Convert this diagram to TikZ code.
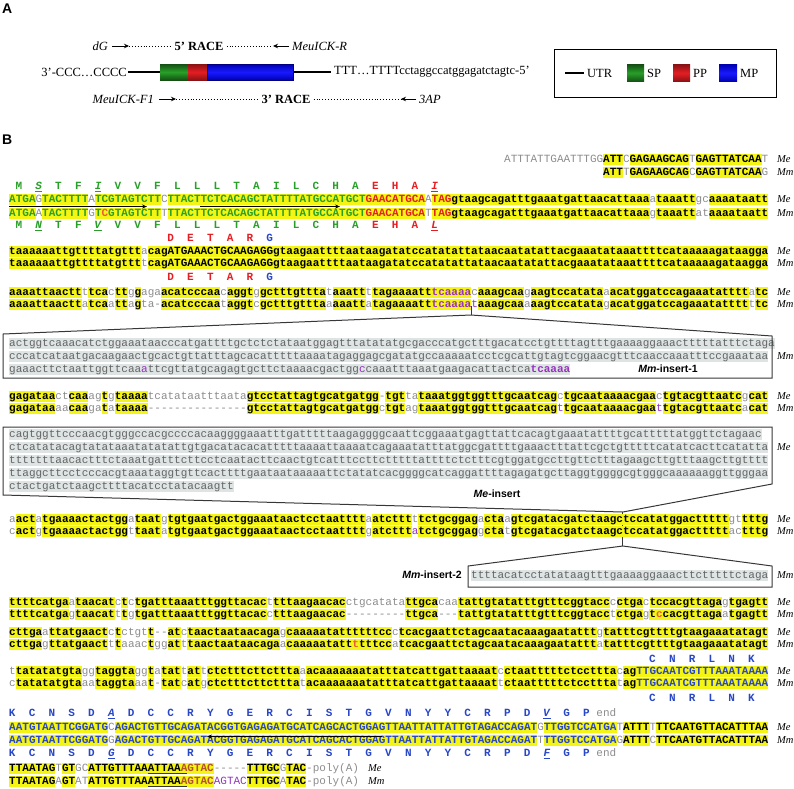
\documentclass[tikz,border=0pt]{standalone}
\usepackage{fontspec}
\setmainfont{Liberation Serif}
\newfontfamily\sqfam{Liberation Mono}
\newfontfamily\sansfam{Liberation Sans}
\usetikzlibrary{arrows.meta}
\definecolor{hly}{RGB}{245,245,20}
\definecolor{ngr}{RGB}{140,140,140}
\definecolor{ibg}{RGB}{222,228,228}
\definecolor{itx}{RGB}{100,100,100}
\definecolor{spc}{RGB}{40,160,40}
\definecolor{ppc}{RGB}{230,30,35}
\definecolor{mpc}{RGB}{40,70,200}
\definecolor{puc}{RGB}{150,50,190}
\definecolor{orc}{RGB}{180,80,50}
\definecolor{rdx}{RGB}{235,90,60}
\definecolor{brd}{RGB}{55,55,55}
\setlength\fboxsep{0pt}
\newdimen\cwl \cwl=6.6pt
\newcommand\sqf{\sqfam\fontsize{11}{13}\selectfont}
\newcommand\stc{\rule[-2.6pt]{0pt}{10.2pt}}
\newcommand\sqY[1]{\colorbox{hly}{\stc\bfseries #1}}
\newcommand\sqG[1]{{\color{ngr}#1}}
\newcommand\sqI[1]{\colorbox{ibg}{\stc\color{itx}#1}}
\newcommand\kG[1]{{\color{spc}#1}}
\newcommand\kR[1]{{\color{ppc}#1}}
\newcommand\kB[1]{{\color{mpc}#1}}
\newcommand\kP[1]{{\color{puc}#1}}
\newcommand\kO[1]{{\color{orc}#1}}
\newcommand\kX[1]{{\color{rdx}#1}}
\newcommand\hyn[1]{\hbox to #1\cwl{\leaders\hbox to \cwl{\hss-\hss}\hfill}}
\newcommand\uI[1]{\underline{\textit{#1}}}
\tikzset{
 sq/.style={anchor=base west,inner sep=0pt,font=\sqf},
 aa/.style={anchor=base,inner sep=0pt,font=\sqf\bfseries},
 rlab/.style={anchor=base west,inner sep=0pt,font=\rmfamily\itshape\fontsize{10.5}{12}\selectfont},
 ta/.style={inner sep=0pt,font=\rmfamily\fontsize{12.5}{14}\selectfont},
 tai/.style={inner sep=0pt,font=\rmfamily\itshape\fontsize{12.5}{14}\selectfont},
 tab/.style={inner sep=0pt,font=\rmfamily\bfseries\fontsize{12.5}{14}\selectfont},
 dots/.style={dotted,line width=0.9pt},
 parr/.style={-{Stealth[length=5pt,width=4.5pt]},line width=1pt},
 utr/.style={line width=2.6pt},
 callout/.style={draw=brd,line width=1pt},
 pnl/.style={font=\sansfam\bfseries\fontsize{14}{14}\selectfont,inner sep=0pt,anchor=west},
 ilab/.style={inner sep=0pt,anchor=base,font=\sansfam\bfseries\fontsize{10.5}{12}\selectfont},
 primer/.style={-{Stealth[length=5pt,width=4pt]},line width=0.6pt},
}
\newcommand\srow[4]{\node[sq] (#1) at ({9+6.6*#2},#3) {#4};}
\newcommand\aas[5]{\foreach \l [count=\i from 0] in {#5}{\node[aa,text=#4] (#1-\i) at ({9+6.6*(#3+3*\i+0.5)},#2) {\l};}}
\begin{document}
\begin{tikzpicture}[x=1pt,y=-1pt]
\useasboundingbox (0,0) rectangle (794,788);
% ---------------- Panel A ----------------
\node[pnl] (lblA) at (2,9) {A};
\node[tai,anchor=east] (dG) at (108,46) {dG};
\coordinate (p1) at (112,46); \coordinate (p2) at (129,46);
\draw[parr] (p1) -- (p2);
\node[tab] (race5) at (199,46) {5’ RACE};
\draw[dots] (p2) -- ([xshift=-3pt]race5.west);
\coordinate (p3) at (273,46); \coordinate (p4) at (289,46);
\draw[dots] ([xshift=3pt]race5.east) -- (p3);
\draw[parr] (p4) -- (p3);
\node[tai,anchor=west] (meuR) at (292,46) {MeuICK-R};

\node[ta,anchor=east] (left5) at (127,72) {3’-CCC…CCCC};
\coordinate (u1) at (128,72); \coordinate (u2) at (160,72);
\coordinate (u3) at (293,72); \coordinate (u4) at (331,72);
\draw[utr] (u1) -- (u2);
\draw[utr] (u3) -- (u4);
\shade[top color=spc!50!black,bottom color=spc!50!black,middle color=spc] (160,64) rectangle (188,80);
\shade[top color=ppc!60!black,bottom color=ppc!60!black,middle color=ppc] (188,64) rectangle (207,80);
\shade[top color=blue!70!black,bottom color=blue!70!black,middle color=blue!90!white] (207,64) rectangle (293,80);
\draw[blue!50!black,line width=0.5pt] (207,64) rectangle (293,80);
\node[ta,anchor=west] (right3) at (334,72) {TTT…TTTTcctaggccatggagatctagtc-5’};

\node[tai,anchor=east] (meuF) at (154,99) {MeuICK-F1};
\coordinate (q1) at (159,99); \coordinate (q2) at (176,99);
\draw[parr] (q1) -- (q2);
\node[tab] (race3) at (286,99) {3’ RACE};
\draw[dots] (q2) -- ([xshift=-3pt]race3.west);
\coordinate (q3) at (401,99); \coordinate (q4) at (416,99);
\draw[dots] ([xshift=3pt]race3.east) -- (q3);
\draw[parr] (q4) -- (q3);
\node[tai,anchor=west] (ap3) at (419,99) {3AP};

\node[draw,line width=0.8pt,minimum width=222pt,minimum height=48pt,anchor=north west,inner sep=0pt] (legend) at (554,49) {};
\coordinate (l1) at (565,73); \coordinate (l2) at (584,73);
\draw[utr] (l1) -- (l2);
\node[ta,anchor=west] (lutr) at (587,73) {UTR};
\shade[top color=spc!50!black,bottom color=spc!50!black,middle color=spc] (627,64.5) rectangle (644,81.5);
\node[ta,anchor=west] (lsp) at (647,73) {SP};
\shade[top color=ppc!60!black,bottom color=ppc!60!black,middle color=ppc] (673,64.5) rectangle (690,81.5);
\node[ta,anchor=west] (lpp) at (693,73) {PP};
\shade[top color=blue!70!black,bottom color=blue!70!black,middle color=blue!90!white] (719,64.5) rectangle (737,81.5);
\node[ta,anchor=west] (lmp) at (740,73) {MP};

% ---------------- Panel B ----------------
\node[pnl] (lblB) at (2,140) {B};

% row 1
\srow{r1a}{75}{162}{\sqG{ATTTATTGAATTTGG}\sqY{ATT}\sqG{C}\sqY{GAGAAGCAG}\sqG{T}\sqY{GAGTTATCAA}\sqG{T}}
\srow{r1b}{90}{175}{\sqY{ATT}\sqG{T}\sqY{GAGAAGCAG}\sqG{C}\sqY{GAGTTATCAA}\sqG{G}}
\node[rlab] (l1a) at (777,162) {Me};
\node[rlab] (l1b) at (777,175) {Mm};

% row 2
\aas{a2a}{189.5}{1}{spc}{M,\uI{S},T,F,\uI{I},V,V,F,L,L,L,T,A,I,L,C,H,A}
\aas{a2b}{189.5}{55}{ppc}{E,H,A,\uI{I}}
\srow{r2a}{0}{202}{\sqY{\kG{ATGA}}\sqG{G}\sqY{\kG{TACTTTT}}\sqG{A}\sqY{\kG{TCGTAGTCTT}}\sqG{C}\sqY{\kG{TTACTTCTCACAGCTATTTTATGCCATGCT}\kR{GAACATGCA}}\sqG{A}\sqY{\kR{TAG}gtaagcagatttgaaatgattaacattaaa}\sqG{a}\sqY{taaatt}\sqG{gc}\sqY{aaaataatt}}
\srow{r2b}{0}{216}{\sqY{\kG{ATGA}}\sqG{A}\sqY{\kG{TACTTTT}}\sqG{G}\sqY{\kG{T}\kX{C}\kG{GTAGTCTT}}\sqG{T}\sqY{\kG{TTACTTCTCACAGCTATTTTATGCCATGCT}\kR{GAACATGCA}}\sqG{T}\sqY{\kR{TAG}gtaagcagatttgaaatgattaacattaaa}\sqG{g}\sqY{taaatt}\sqG{at}\sqY{aaaataatt}}
\aas{a2c}{228.5}{1}{spc}{M,\uI{N},T,F,\uI{V},V,V,F,L,L,L,T,A,I,L,C,H,A}
\aas{a2d}{228.5}{55}{ppc}{E,H,A,\uI{L}}
\coordinate (f1s) at (9,206.5); \coordinate (f1e) at (147,206.5);
\coordinate (f2s) at (200,206.5); \coordinate (f2e) at (340,206.5);
\draw[primer] (f1s) -- (f1e);
\draw[primer] (f2s) -- (f2e);
\node[rlab] (l2a) at (777,202) {Me};
\node[rlab] (l2b) at (777,216) {Mm};

% row 3
\aas{a3a}{241.5}{24}{ppc}{D,E,T,A,R}
\aas{a3b}{241.5}{39}{mpc}{G}
\srow{r3a}{0}{254}{\sqY{taaaaaattgttttatgttt}\sqG{a}\sqY{cagATGAAACTGCAAGAGGgtaagaattttaataagatatccatatattataacaatatattacgaaatataaattttcataaaaagataagga}}
\srow{r3b}{0}{266}{\sqY{taaaaaattgttttatgttt}\sqG{t}\sqY{cagATGAAACTGCAAGAGGgtaagaattttaataagatatccatatattataacaatatattacgaaatataaattttcataaaaagataagga}}
\aas{a3c}{280.5}{24}{ppc}{D,E,T,A,R}
\aas{a3d}{280.5}{39}{mpc}{G}
\node[rlab] (l3a) at (777,254) {Me};
\node[rlab] (l3b) at (777,266) {Mm};

% row 4
\srow{r4a}{0}{295}{\sqY{aaaattaactt}\sqG{t}\sqY{tca}\sqG{c}\sqY{tt}\sqG{g}\sqY{g}\sqG{aga}\sqY{acatcccaa}\sqG{c}\sqY{aggt}\sqG{g}\sqY{gctttgttta}\sqG{t}\sqY{aaatt}\sqG{t}\sqY{tagaaaatt\kP{tcaaaa}}\sqG{c}\sqY{aaagcaa}\sqG{g}\sqY{aagtccatata}\sqG{a}\sqY{acatggatccagaaatatttt}\sqG{a}\sqY{tc}}
\srow{r4b}{0}{307}{\sqY{aaaattaactt}\sqG{a}\sqY{tca}\sqG{a}\sqY{tt}\sqG{a}\sqY{g}\sqG{ta\hyn{1}}\sqY{acatcccaa}\sqG{t}\sqY{aggt}\sqG{c}\sqY{gctttgttta}\sqG{a}\sqY{aaatt}\sqG{a}\sqY{tagaaaatt\kP{tcaaaa}}\sqG{\kP{t}}\sqY{aaagcaa}\sqG{a}\sqY{aagtccatata}\sqG{g}\sqY{acatggatccagaaatatttt}\sqG{t}\sqY{tc}}
\node[rlab] (l4a) at (777,295) {Me};
\node[rlab] (l4b) at (777,307) {Mm};

% insert 1
\srow{i1a}{0}{346}{\sqI{actggtcaaacatctggaaataacccatgattttgctctctataatggagtttatatatgcgacccatgctttgacatcctgttttagtttgaaaaggaaactttttatttctaga}}
\srow{i1b}{0}{359}{\sqI{cccatcataatgacaagaactgcactgttatttagcacatttttaaaatagaggagcgatatgccaaaaatcctcgcattgtagtcggaacgtttcaaccaaatttccgaaataa}}
\srow{i1c}{0}{372}{\sqI{gaaacttctaattggttcaa\kP{a}ttcgttatgcagagtgcttctaaaacgactgg\kP{c}caaatttaaatgaagacattactca\textbf{\kP{tcaaaa}}}}
\node[ilab] (i1lab) at (668,372) {\textit{Mm}-insert-1};
\node[rlab] (l5m) at (777,359) {Mm};
\coordinate (c1t) at (471,306); \coordinate (c1k) at (471,315);
\coordinate (c1a) at (3,334); \coordinate (c1b) at (772,336);
\coordinate (c1c) at (772,378); \coordinate (c1d) at (3,378);
\draw[callout] (c1t) -- (c1k);
\draw[callout] (c1d) -- (c1a) -- (c1k) -- (c1b) -- (c1c) -- cycle;

% row 5
\srow{r5a}{0}{399}{\sqY{gagataa}\sqG{ct}\sqY{caa}\sqG{ag}\sqY{t}\sqG{g}\sqY{taaaa}\sqG{tcatataatttaata}\sqY{gtcctattagtgcatgatgg}\sqG{\hyn{1}}\sqY{tgt}\sqG{ta}\sqY{taaatggtggtttgcaatcag}\sqG{c}\sqY{tgcaataaaacgaa}\sqG{c}\sqY{tgtacgttaatc}\sqG{g}\sqY{cat}}
\srow{r5b}{0}{411}{\sqY{gagataa}\sqG{aa}\sqY{caa}\sqG{ga}\sqY{t}\sqG{a}\sqY{taaaa}\sqG{\hyn{15}}\sqY{gtcctattagtgcatgatgg}\sqG{c}\sqY{tgt}\sqG{ag}\sqY{taaatggtggtttgcaatcag}\sqG{\kP{t}}\sqY{tgcaataaaacgaa}\sqG{\kP{t}}\sqY{tgtacgttaatc}\sqG{a}\sqY{cat}}
\node[rlab] (l6a) at (777,399) {Me};
\node[rlab] (l6b) at (777,411) {Mm};

% Me insert
\srow{m1}{0}{437}{\sqI{cagtggttcccaacgtgggccacgccccacaaggggaaatttgatttttaagaggggcaattcggaaatgagttattcacagtgaaatattttgcatttttatggttctagaac}}
\srow{m2}{0}{450}{\sqI{ctcatatacagtatataaatatatattgtgacatacacatttttaaaattaaaatcagaaatatttatggcgattttgaaactttattcgctgtttttcatatcacttcatatta}}
\srow{m3}{0}{463}{\sqI{tttttttaacactttctaaatgatttcttcctcaatacttcaactgtcatttccttctttttattttctctttcgtggatgccttgttctttagaagcttgtttaagcttgtttt}}
\srow{m4}{0}{476}{\sqI{ttaggcttcctcccacgtaaataggtgttcacttttgaataataaaaattctatatcacggggcatcaggattttagagatgcttaggtggggcgtgggcaaaaaaggttgggaa}}
\srow{m5}{0}{489}{\sqI{ctactgatctaagcttttacatcctatacaagtt}}
\node[ilab] (melab) at (497,497) {\textit{Me}-insert};
\node[rlab] (l7m) at (777,450) {Me};
\coordinate (c2a) at (3,427); \coordinate (c2b) at (772,427);
\coordinate (c2c) at (772,484); \coordinate (c2d) at (3,495);
\coordinate (c2k) at (622.8,512); \coordinate (c3k) at (622.8,546);
\draw[callout] (c2d) -- (c2a) -- (c2b) -- (c2c) -- (c2k) -- cycle;
\draw[callout] (c2k) -- (c3k);

% row 6
\srow{r6a}{0}{522}{\sqG{a}\sqY{act}\sqG{a}\sqY{tgaaaactactgg}\sqG{a}\sqY{taat}\sqG{g}\sqY{tgtgaatgactggaaataactcctaatttt}\sqG{a}\sqY{atcttt}\sqG{t}\sqY{tctgcggag}\sqG{a}\sqY{cta}\sqG{a}\sqY{gtcgatacgatctaagctccatatggacttttt}\sqG{gt}\sqY{tttg}}
\srow{r6b}{0}{534}{\sqG{c}\sqY{act}\sqG{g}\sqY{tgaaaactactgg}\sqG{t}\sqY{taat}\sqG{a}\sqY{tgtgaatgactggaaataactcctaatttt}\sqG{g}\sqY{atcttt}\sqG{\kP{a}}\sqY{tctgcggag}\sqG{g}\sqY{cta}\sqG{t}\sqY{gtcgatacgatctaagctccatatggacttttt}\sqG{ac}\sqY{tttg}}
\node[rlab] (l8a) at (777,522) {Me};
\node[rlab] (l8b) at (777,534) {Mm};

% insert 2
\coordinate (c3a) at (468,566); \coordinate (c3b) at (772,566);
\coordinate (c3c) at (772,587); \coordinate (c3d) at (468,587);
\srow{i2}{70}{578}{\sqI{ttttacatcctatataagtttgaaaaggaaacttctttttctaga}}
\draw[callout] (c3d) -- (c3a) -- (c3k) -- (c3b) -- (c3c) -- cycle;
\node[ilab,anchor=base east] (i2lab) at (462,578) {\textit{Mm}-insert-2};
\node[rlab] (l9m) at (777,578) {Mm};

% row 7
\srow{r7a}{0}{605}{\sqY{ttttcatga}\sqG{a}\sqY{taacat}\sqG{c}\sqY{t}\sqG{c}\sqY{tgatttaaatttggttacac}\sqG{t}\sqY{tttaagaacac}\sqG{ctgcatata}\sqY{ttgca}\sqG{caa}\sqY{tattgtatatttgtttcggtacc}\sqG{c}\sqY{ctga}\sqG{c}\sqY{tccacgttaga}\sqG{g}\sqY{tgagtt}}
\srow{r7b}{0}{617}{\sqY{ttttcatga}\sqG{g}\sqY{taacat}\sqG{t}\sqY{t}\sqG{g}\sqY{tgatttaaatttggttacac}\sqG{c}\sqY{tttaagaacac}\sqG{\hyn{9}}\sqY{ttgca}\sqG{\hyn{3}}\sqY{tattgtatatttgtttcggtacc}\sqG{t}\sqY{ctga}\sqG{g}\sqY{t\kX{c}cacgttaga}\sqG{a}\sqY{tgagtt}}
\node[rlab] (l10a) at (777,605) {Me};
\node[rlab] (l10b) at (777,617) {Mm};

% row 8
\srow{r8a}{0}{635}{\sqY{cttga}\sqG{a}\sqY{ttatgaact}\sqG{c}\sqY{t}\sqG{ctgt}\sqY{t}\sqG{\hyn{2}}\sqY{at}\sqG{c}\sqY{taactaataacaga}\sqG{g}\sqY{caaaaatattttttcc}\sqG{c}\sqY{tcacgaattctagcaatacaaagaatattt}\sqG{g}\sqY{tatttcgttttgtaagaaatatagt}}
\srow{r8b}{0}{647}{\sqY{cttga}\sqG{g}\sqY{ttatgaact}\sqG{t}\sqY{t}\sqG{aaac}\sqY{t}\sqG{gg}\sqY{at}\sqG{t}\sqY{taactaataacaga}\sqG{a}\sqY{caaaaatatt\kX{t}tttcc}\sqG{a}\sqY{tcacgaattctagcaatacaaagaatattt}\sqG{a}\sqY{tatttcgttttgtaagaaatatagt}}
\node[rlab] (l11a) at (777,635) {Me};
\node[rlab] (l11b) at (777,647) {Mm};

% row 9
\aas{a9a}{662.5}{97}{mpc}{C,N,R,L,N,K}
\srow{r9a}{0}{674}{\sqG{t}\sqY{tatatatgta}\sqG{gg}\sqY{taggta}\sqG{gg}\sqY{t}\sqG{a}\sqY{tat}\sqG{t}\sqY{at}\sqG{t}\sqY{ctctttcttcttta}\sqG{a}\sqY{acaaaaaaatatttatcattgattaaaat}\sqG{c}\sqY{ctaatttttctccttta}\sqG{c}\sqY{ag\kB{TTGCAATCGTTTAAATAAAA}}}
\srow{r9b}{0}{686}{\sqG{c}\sqY{tatatatgta}\sqG{aa}\sqY{taggta}\sqG{aa}\sqY{t}\sqG{\hyn{1}}\sqY{tat}\sqG{c}\sqY{at}\sqG{g}\sqY{ctctttcttcttta}\sqG{t}\sqY{acaaaaaaatatttatcattgattaaaat}\sqG{t}\sqY{ctaatttttctccttta}\sqG{t}\sqY{ag\kB{TTGCAATCGTTTAAATAAAA}}}
\aas{a9b}{701.5}{97}{mpc}{C,N,R,L,N,K}
\node[rlab] (l12a) at (777,674) {Me};
\node[rlab] (l12b) at (777,686) {Mm};

% row 10
\aas{a10a}{716.5}{0}{mpc}{K,C,N,S,D,\uI{A},D,C,C,R,Y,G,E,R,C,I,S,T,G,V,N,Y,Y,C,R,P,D,\uI{V},G,P}
\node[aa] (end1) at ({9+6.6*90.5},716.5) {\mdseries\color{ngr}end};
\srow{r10a}{0}{730}{\sqY{\kB{AATGTAATTCGGATG}}\sqG{C}\sqY{\kB{AGACTGTTGCAGATACGGTGAGAGATGCATCAGCACTGGAGTTAATTATTATTGTAGACCAGAT}}\sqG{G}\sqY{\kB{TTGGTCCATGA}}\sqG{T}\sqY{ATTT}\sqG{T}\sqY{TTCAATGTTACATTTAA}}
\srow{r10b}{0}{743}{\sqY{\kB{AATGTAATTCGGATG}}\sqG{G}\sqY{\kB{AGACTGTTGCAGATACGGTGAGAGATGCATCAGCACTGGAGTTAATTATTATTGTAGACCAGAT}}\sqG{T}\sqY{\kB{TTGGTCCATGA}}\sqG{G}\sqY{ATTT}\sqG{C}\sqY{TTCAATGTTACATTTAA}}
\aas{a10b}{756.5}{0}{mpc}{K,C,N,S,D,\uI{G},D,C,C,R,Y,G,E,R,C,I,S,T,G,V,N,Y,Y,C,R,P,D,\uI{F},G,P}
\node[aa] (end2) at ({9+6.6*90.5},756.5) {\mdseries\color{ngr}end};
\coordinate (rs) at (382,736.5); \coordinate (re) at (207,736.5);
\draw[primer] (rs) -- (re);
\node[rlab] (l13a) at (777,730) {Me};
\node[rlab] (l13b) at (777,743) {Mm};

% row 11
\srow{r11a}{0}{771}{\sqY{TTAATAG}\sqG{T}\sqY{GT}\sqG{GC}\sqY{ATTGTTTAAATTAA\kO{AGTAC}}\sqG{\hyn{5}}\sqY{TTTGC}\sqG{G}\sqY{TAC}\sqG{-poly(A)}}
\srow{r11b}{0}{784}{\sqY{TTAATAG}\sqG{A}\sqY{GT}\sqG{AT}\sqY{ATTGTTTAAATTAA\kO{AGTAC}}\sqG{\kP{AGTAC}}\sqY{TTTGC}\sqG{A}\sqY{TAC}\sqG{-poly(A)}}
\node[rlab] (l14a) at (368,771) {Me};
\node[rlab] (l14b) at (368,784) {Mm};
\coordinate (ua1) at (147.6,773.6); \coordinate (ua2) at (187.2,773.6);
\coordinate (ub1) at (147.6,786.6); \coordinate (ub2) at (187.2,786.6);
\draw[brd,line width=1pt] (ua1) -- (ua2);
\draw[brd,line width=1pt] (ub1) -- (ub2);
\end{tikzpicture}
\end{document}
